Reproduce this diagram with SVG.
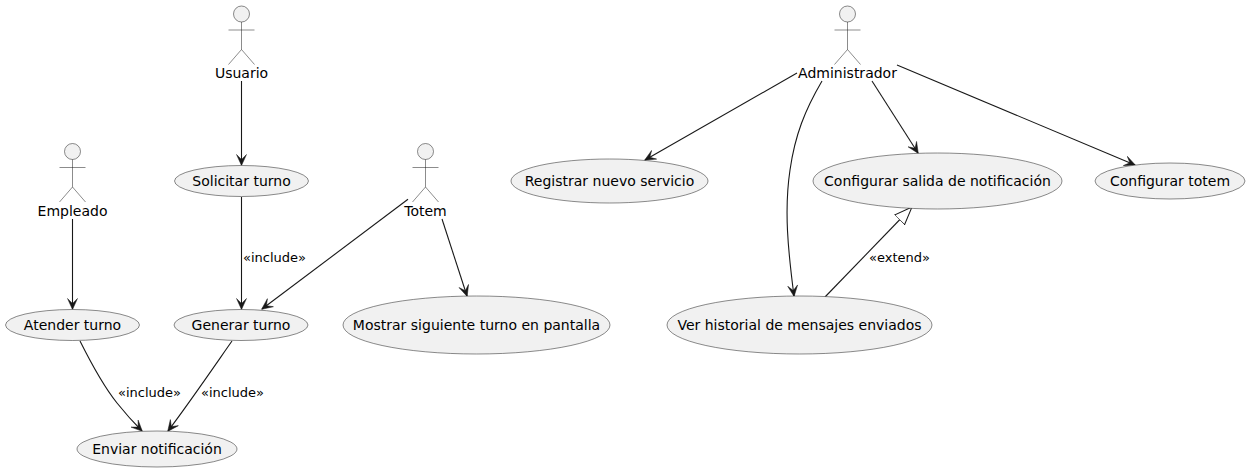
<svg xmlns="http://www.w3.org/2000/svg" width="1250" height="472" viewBox="0 0 1250 472">
<style>
text{font-family:"DejaVu Sans",sans-serif;fill:#000;text-anchor:middle}
.n{font-size:14px}.l{font-size:13px;text-anchor:start}
ellipse{fill:#F1F1F1;stroke:#181818;stroke-width:.5}
.a circle{fill:#F1F1F1;stroke:#181818;stroke-width:.5}
.a path{fill:none;stroke:#181818;stroke-width:.5}
#connectors path{fill:none;stroke:#181818;stroke-width:1.1;marker-end:url(#o)}
#connectors path.e{marker-end:url(#t)}
</style>
<defs>
<marker id="o" markerUnits="userSpaceOnUse" markerWidth="14" markerHeight="12" refX="11" refY="6" orient="auto"><path d="M11.500,6L0.500,1L5.500,6L0.500,11Z" fill="#181818" stroke="#181818" stroke-width=".5"/></marker>
<marker id="t" markerUnits="userSpaceOnUse" markerWidth="20" markerHeight="16" refX="18" refY="8" orient="auto"><path d="M18,8L0,1V15Z" fill="#fff" stroke="#181818" stroke-width="1"/></marker>
<g id="fig" class="a"><circle cx="0" cy="8" r="8"/><path d="M0,16V43.500M-13,24H13M0,43.500L-13,58.500M0,43.500L13,58.500"/></g>
</defs>
<rect width="1250" height="472" fill="#fff"/>
<g id="connectors">
<path d="M241.500,81V165"/>
<path d="M72.500,219V309"/>
<path d="M241.500,197V309"/>
<path d="M408,199.300L262,309"/>
<path d="M442,219L467,296"/>
<path d="M232,341C220,358 190,402 168,431"/>
<path d="M80,341C92,365 105,388 117,403C125,413 133,422 142,431"/>
<path d="M797,73L645,160"/>
<path d="M822,81C805,110 795,135 790,170C784,210 788,250 794,296"/>
<path d="M872,81L918,153"/>
<path d="M897,65L1135,165"/>
<path class="e" d="M825,297L912,207"/>
</g>
<g id="usuario"><use href="#fig" x="241.500" y="6"/><text class="n" x="241.500" y="78">Usuario</text></g>
<g id="empleado"><use href="#fig" x="72.500" y="143.500"/><text class="n" x="72.500" y="216">Empleado</text></g>
<g id="totem"><use href="#fig" x="425.500" y="143.500"/><text class="n" x="425.500" y="216">Totem</text></g>
<g id="administrador"><use href="#fig" x="847.500" y="6"/><text class="n" x="847.500" y="78">Administrador</text></g>
<g id="solicitar"><ellipse cx="241.500" cy="181" rx="67" ry="15.500"/><text class="n" x="241.500" y="186">Solicitar turno</text></g>
<g id="generar"><ellipse cx="241" cy="325" rx="67" ry="15.500"/><text class="n" x="241" y="330">Generar turno</text></g>
<g id="atender"><ellipse cx="72.500" cy="325" rx="67" ry="15.500"/><text class="n" x="72.500" y="330">Atender turno</text></g>
<g id="enviar"><ellipse cx="157" cy="449" rx="80" ry="18"/><text class="n" x="157" y="454">Enviar notificación</text></g>
<g id="mostrar"><ellipse cx="476.500" cy="325" rx="133.500" ry="29"/><text class="n" x="476.500" y="330">Mostrar siguiente turno en pantalla</text></g>
<g id="registrar"><ellipse cx="609.500" cy="181" rx="98.500" ry="22"/><text class="n" x="609.500" y="186">Registrar nuevo servicio</text></g>
<g id="salida"><ellipse cx="937.500" cy="181" rx="124.500" ry="28"/><text class="n" x="937.500" y="186">Configurar salida de notificación</text></g>
<g id="ctotem"><ellipse cx="1170" cy="181" rx="75" ry="18"/><text class="n" x="1170" y="186">Configurar totem</text></g>
<g id="historial"><ellipse cx="799.500" cy="325" rx="132.500" ry="29"/><text class="n" x="799.500" y="330">Ver historial de mensajes enviados</text></g>
<text class="l" x="243" y="262">«include»</text>
<text class="l" x="118" y="397">«include»</text>
<text class="l" x="201" y="397">«include»</text>
<text class="l" x="869" y="262">«extend»</text>
</svg>
